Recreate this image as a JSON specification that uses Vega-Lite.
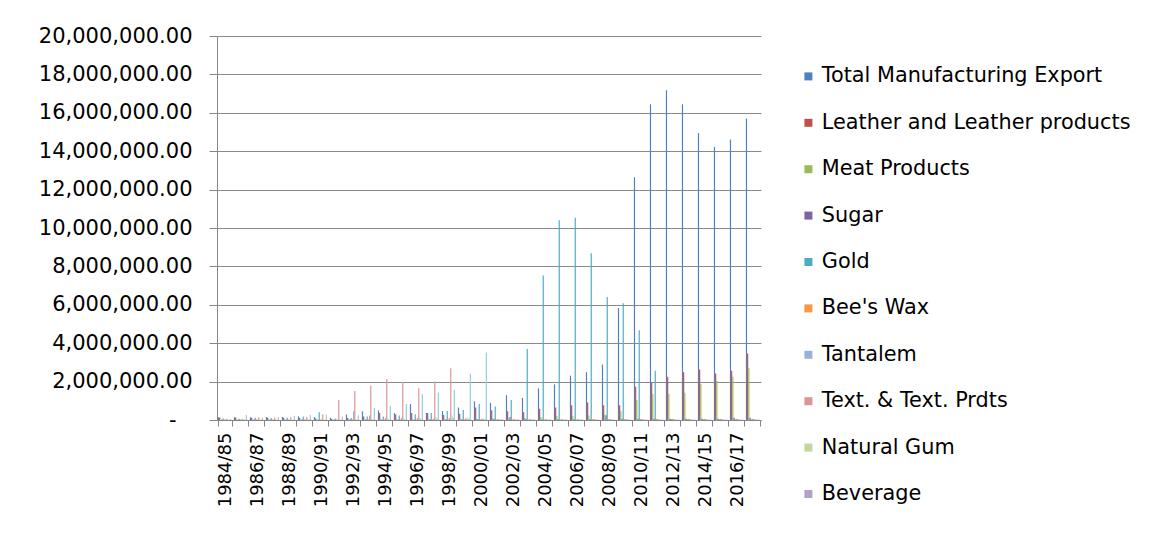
{
  "$schema": "https://vega.github.io/schema/vega-lite/v6.json",
  "width": 544,
  "height": 384,
  "autosize": {"type": "none"},
  "padding": {"left": 217, "top": 36, "right": 389, "bottom": 136},
  "background": "white",
  "config": {"view": {"stroke": null}, "font": "DejaVu Sans"},
  "datasets": {
    "exports": [
      {"year":"1984/85","series":"Total Manufacturing Export","value":140000},
      {"year":"1985/86","series":"Total Manufacturing Export","value":140000},
      {"year":"1986/87","series":"Total Manufacturing Export","value":140000},
      {"year":"1987/88","series":"Total Manufacturing Export","value":150000},
      {"year":"1988/89","series":"Total Manufacturing Export","value":150000},
      {"year":"1989/90","series":"Total Manufacturing Export","value":190000},
      {"year":"1990/91","series":"Total Manufacturing Export","value":150000},
      {"year":"1991/92","series":"Total Manufacturing Export","value":110000},
      {"year":"1992/93","series":"Total Manufacturing Export","value":290000},
      {"year":"1993/94","series":"Total Manufacturing Export","value":450000},
      {"year":"1994/95","series":"Total Manufacturing Export","value":500000},
      {"year":"1995/96","series":"Total Manufacturing Export","value":360000},
      {"year":"1996/97","series":"Total Manufacturing Export","value":830000},
      {"year":"1997/98","series":"Total Manufacturing Export","value":370000},
      {"year":"1998/99","series":"Total Manufacturing Export","value":470000},
      {"year":"1999/00","series":"Total Manufacturing Export","value":650000},
      {"year":"2000/01","series":"Total Manufacturing Export","value":970000},
      {"year":"2001/02","series":"Total Manufacturing Export","value":890000},
      {"year":"2002/03","series":"Total Manufacturing Export","value":1290000},
      {"year":"2003/04","series":"Total Manufacturing Export","value":1150000},
      {"year":"2004/05","series":"Total Manufacturing Export","value":1650000},
      {"year":"2005/06","series":"Total Manufacturing Export","value":1860000},
      {"year":"2006/07","series":"Total Manufacturing Export","value":2310000},
      {"year":"2007/08","series":"Total Manufacturing Export","value":2490000},
      {"year":"2008/09","series":"Total Manufacturing Export","value":2890000},
      {"year":"2009/10","series":"Total Manufacturing Export","value":5830000},
      {"year":"2010/11","series":"Total Manufacturing Export","value":12640000},
      {"year":"2011/12","series":"Total Manufacturing Export","value":16450000},
      {"year":"2012/13","series":"Total Manufacturing Export","value":17180000},
      {"year":"2013/14","series":"Total Manufacturing Export","value":16450000},
      {"year":"2014/15","series":"Total Manufacturing Export","value":14950000},
      {"year":"2015/16","series":"Total Manufacturing Export","value":14230000},
      {"year":"2016/17","series":"Total Manufacturing Export","value":14610000},
      {"year":"2017/18","series":"Total Manufacturing Export","value":15700000},

      {"year":"1984/85","series":"Leather and Leather products","value":130000},
      {"year":"1985/86","series":"Leather and Leather products","value":130000},
      {"year":"1986/87","series":"Leather and Leather products","value":120000},
      {"year":"1987/88","series":"Leather and Leather products","value":120000},
      {"year":"1988/89","series":"Leather and Leather products","value":120000},
      {"year":"1989/90","series":"Leather and Leather products","value":100000},
      {"year":"1990/91","series":"Leather and Leather products","value":80000},
      {"year":"1991/92","series":"Leather and Leather products","value":50000},
      {"year":"1992/93","series":"Leather and Leather products","value":110000},
      {"year":"1993/94","series":"Leather and Leather products","value":180000},
      {"year":"1994/95","series":"Leather and Leather products","value":360000},
      {"year":"1995/96","series":"Leather and Leather products","value":290000},
      {"year":"1996/97","series":"Leather and Leather products","value":370000},
      {"year":"1997/98","series":"Leather and Leather products","value":370000},
      {"year":"1998/99","series":"Leather and Leather products","value":260000},
      {"year":"1999/00","series":"Leather and Leather products","value":320000},
      {"year":"2000/01","series":"Leather and Leather products","value":650000},
      {"year":"2001/02","series":"Leather and Leather products","value":510000},
      {"year":"2002/03","series":"Leather and Leather products","value":460000},
      {"year":"2003/04","series":"Leather and Leather products","value":400000},
      {"year":"2004/05","series":"Leather and Leather products","value":580000},
      {"year":"2005/06","series":"Leather and Leather products","value":650000},
      {"year":"2006/07","series":"Leather and Leather products","value":770000},
      {"year":"2007/08","series":"Leather and Leather products","value":910000},
      {"year":"2008/09","series":"Leather and Leather products","value":770000},
      {"year":"2009/10","series":"Leather and Leather products","value":770000},
      {"year":"2010/11","series":"Leather and Leather products","value":1730000},
      {"year":"2011/12","series":"Leather and Leather products","value":1940000},
      {"year":"2012/13","series":"Leather and Leather products","value":2250000},
      {"year":"2013/14","series":"Leather and Leather products","value":2490000},
      {"year":"2014/15","series":"Leather and Leather products","value":2630000},
      {"year":"2015/16","series":"Leather and Leather products","value":2420000},
      {"year":"2016/17","series":"Leather and Leather products","value":2560000},
      {"year":"2017/18","series":"Leather and Leather products","value":3460000},

      {"year":"1984/85","series":"Meat Products","value":10000},
      {"year":"1985/86","series":"Meat Products","value":10000},
      {"year":"1986/87","series":"Meat Products","value":10000},
      {"year":"1987/88","series":"Meat Products","value":10000},
      {"year":"1988/89","series":"Meat Products","value":10000},
      {"year":"1989/90","series":"Meat Products","value":10000},
      {"year":"1990/91","series":"Meat Products","value":10000},
      {"year":"1991/92","series":"Meat Products","value":10000},
      {"year":"1992/93","series":"Meat Products","value":20000},
      {"year":"1993/94","series":"Meat Products","value":20000},
      {"year":"1994/95","series":"Meat Products","value":20000},
      {"year":"1995/96","series":"Meat Products","value":20000},
      {"year":"1996/97","series":"Meat Products","value":30000},
      {"year":"1997/98","series":"Meat Products","value":30000},
      {"year":"1998/99","series":"Meat Products","value":30000},
      {"year":"1999/00","series":"Meat Products","value":40000},
      {"year":"2000/01","series":"Meat Products","value":50000},
      {"year":"2001/02","series":"Meat Products","value":60000},
      {"year":"2002/03","series":"Meat Products","value":80000},
      {"year":"2003/04","series":"Meat Products","value":100000},
      {"year":"2004/05","series":"Meat Products","value":160000},
      {"year":"2005/06","series":"Meat Products","value":220000},
      {"year":"2006/07","series":"Meat Products","value":190000},
      {"year":"2007/08","series":"Meat Products","value":240000},
      {"year":"2008/09","series":"Meat Products","value":290000},
      {"year":"2009/10","series":"Meat Products","value":470000},
      {"year":"2010/11","series":"Meat Products","value":1040000},
      {"year":"2011/12","series":"Meat Products","value":1350000},
      {"year":"2012/13","series":"Meat Products","value":1350000},
      {"year":"2013/14","series":"Meat Products","value":1420000},
      {"year":"2014/15","series":"Meat Products","value":1870000},
      {"year":"2015/16","series":"Meat Products","value":2040000},
      {"year":"2016/17","series":"Meat Products","value":2250000},
      {"year":"2017/18","series":"Meat Products","value":2700000},

      {"year":"1984/85","series":"Sugar","value":20000},
      {"year":"1985/86","series":"Sugar","value":20000},
      {"year":"1986/87","series":"Sugar","value":30000},
      {"year":"1987/88","series":"Sugar","value":30000},
      {"year":"1988/89","series":"Sugar","value":20000},
      {"year":"1989/90","series":"Sugar","value":20000},
      {"year":"1990/91","series":"Sugar","value":30000},
      {"year":"1991/92","series":"Sugar","value":20000},
      {"year":"1992/93","series":"Sugar","value":30000},
      {"year":"1993/94","series":"Sugar","value":30000},
      {"year":"1994/95","series":"Sugar","value":30000},
      {"year":"1995/96","series":"Sugar","value":30000},
      {"year":"1996/97","series":"Sugar","value":30000},
      {"year":"1997/98","series":"Sugar","value":40000},
      {"year":"1998/99","series":"Sugar","value":40000},
      {"year":"1999/00","series":"Sugar","value":40000},
      {"year":"2000/01","series":"Sugar","value":40000},
      {"year":"2001/02","series":"Sugar","value":60000},
      {"year":"2002/03","series":"Sugar","value":150000},
      {"year":"2003/04","series":"Sugar","value":50000},
      {"year":"2004/05","series":"Sugar","value":40000},
      {"year":"2005/06","series":"Sugar","value":40000},
      {"year":"2006/07","series":"Sugar","value":40000},
      {"year":"2007/08","series":"Sugar","value":40000},
      {"year":"2008/09","series":"Sugar","value":250000},
      {"year":"2009/10","series":"Sugar","value":60000},
      {"year":"2010/11","series":"Sugar","value":60000},
      {"year":"2011/12","series":"Sugar","value":60000},
      {"year":"2012/13","series":"Sugar","value":60000},
      {"year":"2013/14","series":"Sugar","value":60000},
      {"year":"2014/15","series":"Sugar","value":60000},
      {"year":"2015/16","series":"Sugar","value":60000},
      {"year":"2016/17","series":"Sugar","value":120000},
      {"year":"2017/18","series":"Sugar","value":120000},

      {"year":"1984/85","series":"Gold","value":80000},
      {"year":"1985/86","series":"Gold","value":60000},
      {"year":"1986/87","series":"Gold","value":120000},
      {"year":"1987/88","series":"Gold","value":100000},
      {"year":"1988/89","series":"Gold","value":120000},
      {"year":"1989/90","series":"Gold","value":180000},
      {"year":"1990/91","series":"Gold","value":400000},
      {"year":"1991/92","series":"Gold","value":80000},
      {"year":"1992/93","series":"Gold","value":110000},
      {"year":"1993/94","series":"Gold","value":180000},
      {"year":"1994/95","series":"Gold","value":180000},
      {"year":"1995/96","series":"Gold","value":230000},
      {"year":"1996/97","series":"Gold","value":300000},
      {"year":"1997/98","series":"Gold","value":370000},
      {"year":"1998/99","series":"Gold","value":470000},
      {"year":"1999/00","series":"Gold","value":520000},
      {"year":"2000/01","series":"Gold","value":830000},
      {"year":"2001/02","series":"Gold","value":700000},
      {"year":"2002/03","series":"Gold","value":1040000},
      {"year":"2003/04","series":"Gold","value":3700000},
      {"year":"2004/05","series":"Gold","value":7520000},
      {"year":"2005/06","series":"Gold","value":10400000},
      {"year":"2006/07","series":"Gold","value":10540000},
      {"year":"2007/08","series":"Gold","value":8690000},
      {"year":"2008/09","series":"Gold","value":6400000},
      {"year":"2009/10","series":"Gold","value":6080000},
      {"year":"2010/11","series":"Gold","value":4680000},
      {"year":"2011/12","series":"Gold","value":2560000},
      {"year":"2012/13","series":"Gold","value":50000},
      {"year":"2013/14","series":"Gold","value":40000},
      {"year":"2014/15","series":"Gold","value":40000},
      {"year":"2015/16","series":"Gold","value":40000},
      {"year":"2016/17","series":"Gold","value":40000},
      {"year":"2017/18","series":"Gold","value":40000},

      {"year":"1984/85","series":"Bee's Wax","value":30000},
      {"year":"1985/86","series":"Bee's Wax","value":30000},
      {"year":"1986/87","series":"Bee's Wax","value":30000},
      {"year":"1987/88","series":"Bee's Wax","value":30000},
      {"year":"1988/89","series":"Bee's Wax","value":30000},
      {"year":"1989/90","series":"Bee's Wax","value":30000},
      {"year":"1990/91","series":"Bee's Wax","value":20000},
      {"year":"1991/92","series":"Bee's Wax","value":20000},
      {"year":"1992/93","series":"Bee's Wax","value":20000},
      {"year":"1993/94","series":"Bee's Wax","value":20000},
      {"year":"1994/95","series":"Bee's Wax","value":20000},
      {"year":"1995/96","series":"Bee's Wax","value":20000},
      {"year":"1996/97","series":"Bee's Wax","value":20000},
      {"year":"1997/98","series":"Bee's Wax","value":20000},
      {"year":"1998/99","series":"Bee's Wax","value":20000},
      {"year":"1999/00","series":"Bee's Wax","value":20000},
      {"year":"2000/01","series":"Bee's Wax","value":20000},
      {"year":"2001/02","series":"Bee's Wax","value":20000},
      {"year":"2002/03","series":"Bee's Wax","value":20000},
      {"year":"2003/04","series":"Bee's Wax","value":20000},
      {"year":"2004/05","series":"Bee's Wax","value":30000},
      {"year":"2005/06","series":"Bee's Wax","value":30000},
      {"year":"2006/07","series":"Bee's Wax","value":30000},
      {"year":"2007/08","series":"Bee's Wax","value":40000},
      {"year":"2008/09","series":"Bee's Wax","value":40000},
      {"year":"2009/10","series":"Bee's Wax","value":40000},
      {"year":"2010/11","series":"Bee's Wax","value":50000},
      {"year":"2011/12","series":"Bee's Wax","value":60000},
      {"year":"2012/13","series":"Bee's Wax","value":60000},
      {"year":"2013/14","series":"Bee's Wax","value":60000},
      {"year":"2014/15","series":"Bee's Wax","value":60000},
      {"year":"2015/16","series":"Bee's Wax","value":60000},
      {"year":"2016/17","series":"Bee's Wax","value":60000},
      {"year":"2017/18","series":"Bee's Wax","value":60000},

      {"year":"1984/85","series":"Tantalem","value":20000},
      {"year":"1985/86","series":"Tantalem","value":20000},
      {"year":"1986/87","series":"Tantalem","value":20000},
      {"year":"1987/88","series":"Tantalem","value":20000},
      {"year":"1988/89","series":"Tantalem","value":20000},
      {"year":"1989/90","series":"Tantalem","value":20000},
      {"year":"1990/91","series":"Tantalem","value":20000},
      {"year":"1991/92","series":"Tantalem","value":30000},
      {"year":"1992/93","series":"Tantalem","value":450000},
      {"year":"1993/94","series":"Tantalem","value":230000},
      {"year":"1994/95","series":"Tantalem","value":100000},
      {"year":"1995/96","series":"Tantalem","value":100000},
      {"year":"1996/97","series":"Tantalem","value":100000},
      {"year":"1997/98","series":"Tantalem","value":80000},
      {"year":"1998/99","series":"Tantalem","value":100000},
      {"year":"1999/00","series":"Tantalem","value":80000},
      {"year":"2000/01","series":"Tantalem","value":50000},
      {"year":"2001/02","series":"Tantalem","value":40000},
      {"year":"2002/03","series":"Tantalem","value":40000},
      {"year":"2003/04","series":"Tantalem","value":40000},
      {"year":"2004/05","series":"Tantalem","value":40000},
      {"year":"2005/06","series":"Tantalem","value":40000},
      {"year":"2006/07","series":"Tantalem","value":40000},
      {"year":"2007/08","series":"Tantalem","value":40000},
      {"year":"2008/09","series":"Tantalem","value":40000},
      {"year":"2009/10","series":"Tantalem","value":40000},
      {"year":"2010/11","series":"Tantalem","value":40000},
      {"year":"2011/12","series":"Tantalem","value":40000},
      {"year":"2012/13","series":"Tantalem","value":40000},
      {"year":"2013/14","series":"Tantalem","value":40000},
      {"year":"2014/15","series":"Tantalem","value":40000},
      {"year":"2015/16","series":"Tantalem","value":40000},
      {"year":"2016/17","series":"Tantalem","value":40000},
      {"year":"2017/18","series":"Tantalem","value":40000},

      {"year":"1984/85","series":"Text. & Text. Prdts","value":70000},
      {"year":"1985/86","series":"Text. & Text. Prdts","value":70000},
      {"year":"1986/87","series":"Text. & Text. Prdts","value":140000},
      {"year":"1987/88","series":"Text. & Text. Prdts","value":130000},
      {"year":"1988/89","series":"Text. & Text. Prdts","value":140000},
      {"year":"1989/90","series":"Text. & Text. Prdts","value":160000},
      {"year":"1990/91","series":"Text. & Text. Prdts","value":300000},
      {"year":"1991/92","series":"Text. & Text. Prdts","value":1040000},
      {"year":"1992/93","series":"Text. & Text. Prdts","value":1510000},
      {"year":"1993/94","series":"Text. & Text. Prdts","value":1800000},
      {"year":"1994/95","series":"Text. & Text. Prdts","value":2130000},
      {"year":"1995/96","series":"Text. & Text. Prdts","value":1980000},
      {"year":"1996/97","series":"Text. & Text. Prdts","value":1660000},
      {"year":"1997/98","series":"Text. & Text. Prdts","value":2000000},
      {"year":"1998/99","series":"Text. & Text. Prdts","value":2690000},
      {"year":"1999/00","series":"Text. & Text. Prdts","value":80000},
      {"year":"2000/01","series":"Text. & Text. Prdts","value":60000},
      {"year":"2001/02","series":"Text. & Text. Prdts","value":50000},
      {"year":"2002/03","series":"Text. & Text. Prdts","value":50000},
      {"year":"2003/04","series":"Text. & Text. Prdts","value":50000},
      {"year":"2004/05","series":"Text. & Text. Prdts","value":50000},
      {"year":"2005/06","series":"Text. & Text. Prdts","value":50000},
      {"year":"2006/07","series":"Text. & Text. Prdts","value":50000},
      {"year":"2007/08","series":"Text. & Text. Prdts","value":50000},
      {"year":"2008/09","series":"Text. & Text. Prdts","value":50000},
      {"year":"2009/10","series":"Text. & Text. Prdts","value":50000},
      {"year":"2010/11","series":"Text. & Text. Prdts","value":50000},
      {"year":"2011/12","series":"Text. & Text. Prdts","value":50000},
      {"year":"2012/13","series":"Text. & Text. Prdts","value":50000},
      {"year":"2013/14","series":"Text. & Text. Prdts","value":50000},
      {"year":"2014/15","series":"Text. & Text. Prdts","value":50000},
      {"year":"2015/16","series":"Text. & Text. Prdts","value":50000},
      {"year":"2016/17","series":"Text. & Text. Prdts","value":50000},
      {"year":"2017/18","series":"Text. & Text. Prdts","value":50000},

      {"year":"1984/85","series":"Natural Gum","value":30000},
      {"year":"1985/86","series":"Natural Gum","value":30000},
      {"year":"1986/87","series":"Natural Gum","value":30000},
      {"year":"1987/88","series":"Natural Gum","value":30000},
      {"year":"1988/89","series":"Natural Gum","value":30000},
      {"year":"1989/90","series":"Natural Gum","value":30000},
      {"year":"1990/91","series":"Natural Gum","value":30000},
      {"year":"1991/92","series":"Natural Gum","value":30000},
      {"year":"1992/93","series":"Natural Gum","value":30000},
      {"year":"1993/94","series":"Natural Gum","value":50000},
      {"year":"1994/95","series":"Natural Gum","value":50000},
      {"year":"1995/96","series":"Natural Gum","value":80000},
      {"year":"1996/97","series":"Natural Gum","value":100000},
      {"year":"1997/98","series":"Natural Gum","value":150000},
      {"year":"1998/99","series":"Natural Gum","value":240000},
      {"year":"1999/00","series":"Natural Gum","value":120000},
      {"year":"2000/01","series":"Natural Gum","value":60000},
      {"year":"2001/02","series":"Natural Gum","value":40000},
      {"year":"2002/03","series":"Natural Gum","value":30000},
      {"year":"2003/04","series":"Natural Gum","value":30000},
      {"year":"2004/05","series":"Natural Gum","value":30000},
      {"year":"2005/06","series":"Natural Gum","value":30000},
      {"year":"2006/07","series":"Natural Gum","value":30000},
      {"year":"2007/08","series":"Natural Gum","value":30000},
      {"year":"2008/09","series":"Natural Gum","value":30000},
      {"year":"2009/10","series":"Natural Gum","value":30000},
      {"year":"2010/11","series":"Natural Gum","value":30000},
      {"year":"2011/12","series":"Natural Gum","value":30000},
      {"year":"2012/13","series":"Natural Gum","value":30000},
      {"year":"2013/14","series":"Natural Gum","value":30000},
      {"year":"2014/15","series":"Natural Gum","value":30000},
      {"year":"2015/16","series":"Natural Gum","value":30000},
      {"year":"2016/17","series":"Natural Gum","value":30000},
      {"year":"2017/18","series":"Natural Gum","value":30000},

      {"year":"1984/85","series":"Beverage","value":10000},
      {"year":"1985/86","series":"Beverage","value":10000},
      {"year":"1986/87","series":"Beverage","value":10000},
      {"year":"1987/88","series":"Beverage","value":10000},
      {"year":"1988/89","series":"Beverage","value":10000},
      {"year":"1989/90","series":"Beverage","value":10000},
      {"year":"1990/91","series":"Beverage","value":10000},
      {"year":"1991/92","series":"Beverage","value":10000},
      {"year":"1992/93","series":"Beverage","value":20000},
      {"year":"1993/94","series":"Beverage","value":20000},
      {"year":"1994/95","series":"Beverage","value":20000},
      {"year":"1995/96","series":"Beverage","value":30000},
      {"year":"1996/97","series":"Beverage","value":40000},
      {"year":"1997/98","series":"Beverage","value":50000},
      {"year":"1998/99","series":"Beverage","value":100000},
      {"year":"1999/00","series":"Beverage","value":60000},
      {"year":"2000/01","series":"Beverage","value":40000},
      {"year":"2001/02","series":"Beverage","value":30000},
      {"year":"2002/03","series":"Beverage","value":30000},
      {"year":"2003/04","series":"Beverage","value":30000},
      {"year":"2004/05","series":"Beverage","value":30000},
      {"year":"2005/06","series":"Beverage","value":30000},
      {"year":"2006/07","series":"Beverage","value":30000},
      {"year":"2007/08","series":"Beverage","value":30000},
      {"year":"2008/09","series":"Beverage","value":30000},
      {"year":"2009/10","series":"Beverage","value":30000},
      {"year":"2010/11","series":"Beverage","value":30000},
      {"year":"2011/12","series":"Beverage","value":30000},
      {"year":"2012/13","series":"Beverage","value":30000},
      {"year":"2013/14","series":"Beverage","value":30000},
      {"year":"2014/15","series":"Beverage","value":30000},
      {"year":"2015/16","series":"Beverage","value":30000},
      {"year":"2016/17","series":"Beverage","value":30000},
      {"year":"2017/18","series":"Beverage","value":30000},

      {"year":"1984/85","series":"Series 11","value":50000},
      {"year":"1985/86","series":"Series 11","value":260000},
      {"year":"1986/87","series":"Series 11","value":120000},
      {"year":"1987/88","series":"Series 11","value":160000},
      {"year":"1988/89","series":"Series 11","value":220000},
      {"year":"1989/90","series":"Series 11","value":260000},
      {"year":"1990/91","series":"Series 11","value":290000},
      {"year":"1991/92","series":"Series 11","value":180000},
      {"year":"1992/93","series":"Series 11","value":230000},
      {"year":"1993/94","series":"Series 11","value":630000},
      {"year":"1994/95","series":"Series 11","value":720000},
      {"year":"1995/96","series":"Series 11","value":830000},
      {"year":"1996/97","series":"Series 11","value":1360000},
      {"year":"1997/98","series":"Series 11","value":1430000},
      {"year":"1998/99","series":"Series 11","value":1560000},
      {"year":"1999/00","series":"Series 11","value":2420000},
      {"year":"2000/01","series":"Series 11","value":3520000},
      {"year":"2001/02","series":"Series 11","value":40000},
      {"year":"2002/03","series":"Series 11","value":30000},
      {"year":"2003/04","series":"Series 11","value":30000},
      {"year":"2004/05","series":"Series 11","value":20000},
      {"year":"2005/06","series":"Series 11","value":20000},
      {"year":"2006/07","series":"Series 11","value":20000},
      {"year":"2007/08","series":"Series 11","value":20000},
      {"year":"2008/09","series":"Series 11","value":20000},
      {"year":"2009/10","series":"Series 11","value":20000},
      {"year":"2010/11","series":"Series 11","value":20000},
      {"year":"2011/12","series":"Series 11","value":20000},
      {"year":"2012/13","series":"Series 11","value":20000},
      {"year":"2013/14","series":"Series 11","value":20000},
      {"year":"2014/15","series":"Series 11","value":20000},
      {"year":"2015/16","series":"Series 11","value":20000},
      {"year":"2016/17","series":"Series 11","value":20000},
      {"year":"2017/18","series":"Series 11","value":20000},

      {"year":"1984/85","series":"Series 12","value":10000},
      {"year":"1985/86","series":"Series 12","value":10000},
      {"year":"1986/87","series":"Series 12","value":10000},
      {"year":"1987/88","series":"Series 12","value":10000},
      {"year":"1988/89","series":"Series 12","value":10000},
      {"year":"1989/90","series":"Series 12","value":10000},
      {"year":"1990/91","series":"Series 12","value":10000},
      {"year":"1991/92","series":"Series 12","value":10000},
      {"year":"1992/93","series":"Series 12","value":10000},
      {"year":"1993/94","series":"Series 12","value":10000},
      {"year":"1994/95","series":"Series 12","value":10000},
      {"year":"1995/96","series":"Series 12","value":10000},
      {"year":"1996/97","series":"Series 12","value":10000},
      {"year":"1997/98","series":"Series 12","value":10000},
      {"year":"1998/99","series":"Series 12","value":10000},
      {"year":"1999/00","series":"Series 12","value":10000},
      {"year":"2000/01","series":"Series 12","value":10000},
      {"year":"2001/02","series":"Series 12","value":10000},
      {"year":"2002/03","series":"Series 12","value":10000},
      {"year":"2003/04","series":"Series 12","value":10000},
      {"year":"2004/05","series":"Series 12","value":10000},
      {"year":"2005/06","series":"Series 12","value":10000},
      {"year":"2006/07","series":"Series 12","value":10000},
      {"year":"2007/08","series":"Series 12","value":10000},
      {"year":"2008/09","series":"Series 12","value":10000},
      {"year":"2009/10","series":"Series 12","value":10000},
      {"year":"2010/11","series":"Series 12","value":10000},
      {"year":"2011/12","series":"Series 12","value":10000},
      {"year":"2012/13","series":"Series 12","value":10000},
      {"year":"2013/14","series":"Series 12","value":10000},
      {"year":"2014/15","series":"Series 12","value":10000},
      {"year":"2015/16","series":"Series 12","value":10000},
      {"year":"2016/17","series":"Series 12","value":10000},
      {"year":"2017/18","series":"Series 12","value":10000}
    ]
  },
  "data": {"name": "exports"},
  "mark": {"type": "bar"},
  "encoding": {
    "x": {
      "field": "year",
      "type": "nominal",
      "sort": null,
      "scale": {"paddingInner": 0.111, "paddingOuter": 0.0555},
      "axis": {
        "title": null,
        "labelAngle": -90,
        "labelAlign": "right",
        "labelBaseline": "middle",
        "labelFontSize": 18,
        "labelColor": "#000000",
        "labelPadding": 6,
        "labelOverlap": false,
        "tickSize": 6,
        "tickColor": "#868686",
        "domainColor": "#868686",
        "tickBand": "extent",
        "grid": false,
        "labelExpr": "parseInt(substring(datum.value, 0, 4)) % 2 === 0 ? datum.value : ''"
      }
    },
    "xOffset": {
      "field": "series",
      "type": "nominal",
      "scale": {
        "domain": ["Total Manufacturing Export", "Leather and Leather products", "Meat Products", "Sugar", "Gold", "Bee's Wax", "Tantalem", "Text. & Text. Prdts", "Natural Gum", "Beverage", "Series 11", "Series 12"],
        "paddingInner": 0,
        "paddingOuter": 0
      }
    },
    "y": {
      "field": "value",
      "type": "quantitative",
      "scale": {"domain": [0, 20000000], "nice": false},
      "axis": {
        "title": null,
        "values": [0, 2000000, 4000000, 6000000, 8000000, 10000000, 12000000, 14000000, 16000000, 18000000, 20000000],
        "labelExpr": "datum.value === 0 ? '-' : format(datum.value, ',.2f')",
        "labelFontSize": 21,
        "labelColor": "#000000",
        "labelPadding": {"condition": {"test": "datum.value === 0", "value": 33}, "value": 17},
        "tickSize": 8,
        "tickColor": "#868686",
        "domainColor": "#868686",
        "grid": true,
        "gridColor": "#8a8a8a"
      }
    },
    "color": {
      "field": "series",
      "type": "nominal",
      "scale": {
        "domain": ["Total Manufacturing Export", "Leather and Leather products", "Meat Products", "Sugar", "Gold", "Bee's Wax", "Tantalem", "Text. & Text. Prdts", "Natural Gum", "Beverage", "Series 11", "Series 12"],
        "range": ["#4F81BD", "#C0504D", "#9BBB59", "#8064A2", "#4BACC6", "#F79646", "#95B3D7", "#D99694", "#C3D69B", "#B3A2C7", "#93CDDD", "#FAC090"]
      },
      "legend": {
        "title": null,
        "values": ["Total Manufacturing Export", "Leather and Leather products", "Meat Products", "Sugar", "Gold", "Bee's Wax", "Tantalem", "Text. & Text. Prdts", "Natural Gum", "Beverage"],
        "orient": "none",
        "legendX": 581,
        "legendY": 30,
        "direction": "vertical",
        "padding": 0,
        "symbolType": "square",
        "symbolSize": 64,
        "symbolStrokeWidth": 0,
        "labelFontSize": 20.8,
        "labelColor": "#000000",
        "labelOffset": 3,
        "labelLimit": 400,
        "rowPadding": 24.4
      }
    }
  }
}
